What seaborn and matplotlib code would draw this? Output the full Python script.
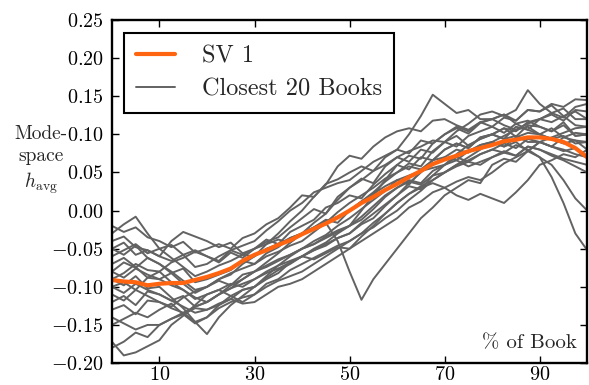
import numpy as np
import pandas as pd
import seaborn as sns
import matplotlib
matplotlib.use('Agg')
import matplotlib.pyplot as plt
from matplotlib.lines import Line2D

# % of book (x positions shared by every series)
pct = [0, 2.5, 5, 7.5, 10, 12.5, 15, 17.5, 20, 22.5, 25, 27.5, 30, 32.5, 35, 37.5,
       40, 42.5, 45, 47.5, 50, 52.5, 55, 57.5, 60, 62.5, 65, 67.5, 70, 72.5, 75, 77.5,
       80, 82.5, 85, 87.5, 90, 92.5, 95, 97.5, 100]

# singular vector 1
sv1 = [-0.091, -0.093, -0.094, -0.098, -0.096, -0.095, -0.095, -0.091, -0.087, -0.082,
       -0.076, -0.066, -0.058, -0.052, -0.045, -0.039, -0.031, -0.024, -0.017, -0.009,
       0.000, 0.010, 0.018, 0.027, 0.035, 0.044, 0.052, 0.061, 0.067, 0.072, 0.078,
       0.082, 0.086, 0.091, 0.093, 0.096, 0.096, 0.094, 0.090, 0.082, 0.070]

# the 20 closest books
book_01 = [-0.020, -0.028, -0.022, -0.035, -0.040, -0.048, -0.041, -0.055, -0.050, -0.044,
           -0.050, -0.036, -0.030, -0.018, -0.010, 0.004, 0.020, 0.018, 0.035, 0.041,
           0.050, 0.058, 0.052, 0.070, 0.080, 0.075, 0.092, 0.088, 0.100, 0.108, 0.101,
           0.115, 0.120, 0.126, 0.118, 0.132, 0.130, 0.138, 0.124, 0.130, 0.120]
book_02 = [-0.030, -0.018, -0.008, -0.030, -0.050, -0.045, -0.058, -0.052, -0.060, -0.068,
           -0.055, -0.062, -0.050, -0.041, -0.035, -0.022, -0.010, 0.002, -0.004, 0.018,
           0.030, 0.042, 0.036, 0.058, 0.070, 0.064, 0.080, 0.076, 0.090, 0.098, 0.085,
           0.094, 0.100, 0.108, 0.097, 0.112, 0.110, 0.104, 0.116, 0.098, 0.100]
book_03 = [-0.050, -0.042, -0.058, -0.052, -0.060, -0.040, -0.028, -0.034, -0.040, -0.048,
           -0.042, -0.056, -0.050, -0.038, -0.044, -0.028, -0.020, -0.012, 0.004, 0.010,
           0.020, 0.016, 0.034, 0.048, 0.060, 0.054, 0.070, 0.066, 0.080, 0.088, 0.082,
           0.096, 0.100, 0.094, 0.110, 0.106, 0.120, 0.128, 0.122, 0.136, 0.140]
book_04 = [-0.080, -0.068, -0.075, -0.062, -0.070, -0.082, -0.076, -0.094, -0.090, -0.084,
           -0.078, -0.066, -0.070, -0.056, -0.048, -0.036, -0.030, -0.022, -0.012, -0.016,
           0.000, 0.012, 0.024, 0.038, 0.050, 0.062, 0.058, 0.078, 0.090, 0.084, 0.098,
           0.104, 0.110, 0.102, 0.114, 0.106, 0.100, 0.094, 0.088, 0.092, 0.080]
book_05 = [-0.100, -0.094, -0.104, -0.088, -0.090, -0.082, -0.096, -0.108, -0.100, -0.092,
           -0.098, -0.084, -0.080, -0.072, -0.064, -0.058, -0.050, -0.040, -0.032, -0.020,
           -0.010, 0.002, 0.014, 0.026, 0.040, 0.034, 0.052, 0.060, 0.070, 0.066, 0.078,
           0.086, 0.090, 0.084, 0.096, 0.102, 0.100, 0.108, 0.096, 0.092, 0.090]
book_06 = [-0.120, -0.112, -0.124, -0.106, -0.110, -0.118, -0.126, -0.134, -0.130, -0.122,
           -0.116, -0.104, -0.100, -0.088, -0.078, -0.070, -0.060, -0.052, -0.044, -0.036,
           -0.030, -0.018, -0.010, 0.006, 0.020, 0.032, 0.028, 0.046, 0.060, 0.070, 0.064,
           0.074, 0.080, 0.088, 0.082, 0.094, 0.090, 0.084, 0.078, 0.082, 0.070]
book_07 = [-0.150, -0.142, -0.134, -0.140, -0.130, -0.122, -0.136, -0.148, -0.140, -0.128,
           -0.120, -0.114, -0.110, -0.096, -0.090, -0.078, -0.070, -0.062, -0.054, -0.046,
           -0.040, -0.030, -0.022, -0.010, 0.000, 0.014, 0.026, 0.040, 0.050, 0.058, 0.064,
           0.060, 0.070, 0.078, 0.072, 0.084, 0.080, 0.074, 0.068, 0.064, 0.060]
book_08 = [-0.180, -0.172, -0.160, -0.166, -0.150, -0.142, -0.134, -0.126, -0.120, -0.110,
           -0.102, -0.090, -0.080, -0.074, -0.066, -0.058, -0.050, -0.044, -0.036, -0.028,
           -0.020, -0.012, 0.002, 0.018, 0.030, 0.040, 0.036, 0.052, 0.060, 0.066, 0.058,
           0.064, 0.070, 0.076, 0.072, 0.084, 0.080, 0.072, 0.066, 0.058, 0.050]
book_09 = [-0.172, -0.190, -0.186, -0.178, -0.170, -0.150, -0.138, -0.124, -0.110, -0.104,
           -0.096, -0.100, -0.090, -0.082, -0.076, -0.068, -0.060, -0.064, -0.056, -0.048,
           -0.050, -0.040, -0.030, -0.020, -0.010, 0.004, 0.012, 0.024, 0.030, 0.038, 0.044,
           0.040, 0.050, 0.062, 0.070, 0.078, 0.090, 0.096, 0.102, 0.108, 0.110]
book_10 = [-0.070, -0.062, -0.074, -0.088, -0.080, -0.094, -0.104, -0.114, -0.120, -0.110,
           -0.102, -0.096, -0.090, -0.080, -0.072, -0.066, -0.060, -0.050, -0.042, -0.030,
           -0.020, 0.000, 0.020, 0.040, 0.060, 0.072, 0.068, 0.088, 0.100, 0.110, 0.104,
           0.116, 0.120, 0.126, 0.114, 0.118, 0.110, 0.104, 0.112, 0.098, 0.100]
book_11 = [-0.090, -0.098, -0.086, -0.102, -0.100, -0.114, -0.128, -0.146, -0.162, -0.140,
           -0.124, -0.112, -0.100, -0.090, -0.082, -0.068, -0.060, -0.052, -0.046, -0.036,
           -0.030, -0.016, -0.004, 0.008, 0.020, 0.036, 0.050, 0.066, 0.080, 0.088, 0.082,
           0.096, 0.100, 0.108, 0.104, 0.116, 0.120, 0.126, 0.118, 0.132, 0.130]
book_12 = [-0.060, -0.052, -0.044, -0.056, -0.050, -0.062, -0.074, -0.086, -0.080, -0.072,
           -0.066, -0.058, -0.060, -0.050, -0.044, -0.036, -0.030, -0.024, -0.016, -0.040,
           -0.080, -0.117, -0.090, -0.070, -0.050, -0.030, -0.010, 0.004, 0.020, 0.030, 0.040,
           0.036, 0.060, 0.068, 0.064, 0.078, 0.090, 0.084, 0.096, 0.102, 0.100]
book_13 = [-0.040, -0.034, -0.048, -0.052, -0.060, -0.066, -0.058, -0.074, -0.070, -0.060,
           -0.052, -0.046, -0.040, -0.026, -0.014, 0.000, 0.010, 0.024, 0.030, 0.036,
           0.040, 0.052, 0.064, 0.072, 0.080, 0.100, 0.124, 0.152, 0.140, 0.128, 0.132,
           0.120, 0.120, 0.112, 0.106, 0.110, 0.100, 0.094, 0.098, 0.088, 0.090]
book_14 = [-0.100, -0.108, -0.096, -0.104, -0.110, -0.118, -0.112, -0.126, -0.120, -0.110,
           -0.098, -0.090, -0.080, -0.068, -0.056, -0.042, -0.030, -0.016, -0.004, 0.014,
           0.030, 0.040, 0.052, 0.060, 0.070, 0.078, 0.084, 0.092, 0.090, 0.104, 0.114,
           0.126, 0.130, 0.124, 0.132, 0.158, 0.140, 0.128, 0.134, 0.120, 0.120]
book_15 = [-0.110, -0.118, -0.104, -0.112, -0.120, -0.126, -0.114, -0.106, -0.100, -0.090,
           -0.082, -0.076, -0.070, -0.060, -0.054, -0.046, -0.040, -0.028, -0.016, -0.002,
           0.010, 0.020, 0.030, 0.042, 0.050, 0.058, 0.054, 0.066, 0.070, 0.080, 0.076,
           0.086, 0.090, 0.084, 0.090, 0.078, 0.070, 0.044, 0.010, -0.030, -0.052]
book_16 = [-0.130, -0.124, -0.136, -0.118, -0.120, -0.128, -0.134, -0.146, -0.140, -0.124,
           -0.112, -0.104, -0.100, -0.086, -0.072, -0.060, -0.050, -0.044, -0.034, -0.026,
           -0.020, -0.008, 0.006, 0.020, 0.030, 0.038, 0.034, 0.046, 0.050, 0.060, 0.066,
           0.074, 0.080, 0.076, 0.086, 0.080, 0.070, 0.060, 0.040, 0.016, 0.000]
book_17 = [-0.080, -0.088, -0.076, -0.084, -0.090, -0.098, -0.104, -0.116, -0.110, -0.104,
           -0.112, -0.120, -0.110, -0.100, -0.092, -0.086, -0.080, -0.070, -0.060, -0.050,
           -0.040, -0.030, -0.016, -0.004, 0.010, 0.022, 0.030, 0.036, 0.030, 0.020, 0.014,
           0.022, 0.016, 0.010, 0.024, 0.040, 0.060, 0.066, 0.074, 0.070, 0.080]
book_18 = [-0.050, -0.058, -0.046, -0.062, -0.070, -0.080, -0.092, -0.104, -0.100, -0.090,
           -0.084, -0.070, -0.060, -0.044, -0.030, -0.014, 0.000, 0.018, 0.034, 0.058,
           0.072, 0.068, 0.084, 0.096, 0.104, 0.108, 0.104, 0.118, 0.120, 0.112, 0.106,
           0.116, 0.110, 0.122, 0.118, 0.132, 0.130, 0.140, 0.136, 0.146, 0.145]
book_19 = [-0.090, -0.082, -0.070, -0.078, -0.080, -0.068, -0.062, -0.054, -0.060, -0.066,
           -0.052, -0.058, -0.050, -0.044, -0.038, -0.042, -0.030, -0.022, -0.014, -0.008,
           0.000, 0.012, 0.022, 0.032, 0.040, 0.046, 0.052, 0.056, 0.060, 0.074, 0.086,
           0.094, 0.100, 0.094, 0.098, 0.090, 0.090, 0.084, 0.080, 0.074, 0.070]
book_20 = [-0.140, -0.148, -0.156, -0.150, -0.150, -0.142, -0.136, -0.128, -0.130, -0.124,
           -0.116, -0.122, -0.120, -0.110, -0.100, -0.096, -0.090, -0.080, -0.070, -0.060,
           -0.050, -0.034, -0.020, -0.004, 0.010, 0.022, 0.032, 0.040, 0.050, 0.060, 0.070,
           0.080, 0.090, 0.098, 0.106, 0.114, 0.120, 0.116, 0.124, 0.112, 0.110]

books = [book_01, book_02, book_03, book_04, book_05, book_06, book_07, book_08, book_09, book_10,
         book_11, book_12, book_13, book_14, book_15, book_16, book_17, book_18, book_19, book_20]

x_ticks = [10, 30, 50, 70, 90]
y_ticks = [-0.20, -0.15, -0.10, -0.05, 0.00, 0.05, 0.10, 0.15, 0.20, 0.25]

sns.set_style('ticks')
plt.rcParams['font.family'] = ['cmr10', 'DejaVu Serif']
plt.rcParams['mathtext.fontset'] = 'cm'
plt.rcParams['axes.formatter.use_mathtext'] = True

# long-form table for seaborn
rows = []
for i, b in enumerate(books):
    for x, y in zip(pct, b):
        rows.append({'pct': x, 'h': y, 'book': i})
books_df = pd.DataFrame(rows)
sv_df = pd.DataFrame({'pct': pct, 'h': sv1})

grey = '#626262'
orange = '#ff6410'

fig = plt.figure(figsize=(5.89, 3.85), dpi=100)
ax = fig.add_axes([0.190, 0.057, 0.807, 0.891])

sns.lineplot(data=books_df, x='pct', y='h', units='book', estimator=None,
             color=grey, lw=1.4, ax=ax, legend=False)
sns.lineplot(data=sv_df, x='pct', y='h', color=orange, lw=3, ax=ax, legend=False)

ax.set_xlim(0, 100)
ax.set_ylim(-0.20, 0.25)
ax.set_xticks(x_ticks)
ax.set_yticks(y_ticks)
ax.tick_params(direction='in', top=True, right=True, length=5, width=1,
               labelsize=14.5, colors='black')
ax.tick_params(axis='y', pad=6)
ax.tick_params(axis='x', pad=2)
for s in ax.spines.values():
    s.set_linewidth(1.7)
    s.set_color('black')

ax.set_xlabel('')
ax.set_ylabel('Mode-\nspace\n$h_{\\rm avg}$', rotation=0, fontsize=14,
              ha='center', va='center', linespacing=1.3)
ax.yaxis.set_label_coords(-0.150, 0.590)
ax.text(0.979, 0.032, '% of Book', transform=ax.transAxes, ha='right', va='bottom',
        fontsize=15)

handles = [Line2D([], [], color=orange, lw=3),
           Line2D([], [], color=grey, lw=1.4)]
leg = ax.legend(handles, ['SV 1', 'Closest 20 Books'], loc='upper left',
                bbox_to_anchor=(0.025, 0.962), borderaxespad=0, fontsize=17.5,
                fancybox=False, framealpha=1, edgecolor='black', handlelength=1.6,
                handletextpad=1.1, borderpad=0.5, labelspacing=0.45)
leg.get_frame().set_linewidth(1.5)

fig.savefig('out.png', dpi=100)
